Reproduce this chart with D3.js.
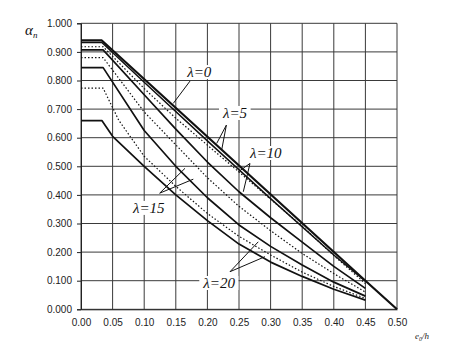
<!DOCTYPE html>
<html>
<head>
<meta charset="utf-8">
<script src="https://cdn.jsdelivr.net/npm/d3@7"></script>
<style>
  html, body { margin: 0; padding: 0; background: #fff; }
  svg { display: block; }
</style>
</head>
<body>
<svg id="chart" width="450" height="344"></svg>
<script>
// Tick values for both axes
const xTicks = [0.00, 0.05, 0.10, 0.15, 0.20, 0.25, 0.30, 0.35, 0.40, 0.45, 0.50];
const yTicks = [0.0, 0.1, 0.2, 0.3, 0.4, 0.5, 0.6, 0.7, 0.8, 0.9, 1.0];

// α_n curves: [e0/h, α_n] points
const lam0  = [[0, 0.940], [0.033, 0.940], [0.45, 0.100], [0.50, 0.000]];
const lam5s = [[0, 0.933], [0.033, 0.933], [0.10, 0.794], [0.20, 0.589], [0.30, 0.387], [0.40, 0.190], [0.45, 0.098]];
const lam10d = [[0, 0.918], [0.035, 0.918], [0.10, 0.772], [0.15, 0.668], [0.20, 0.574], [0.25, 0.480], [0.30, 0.385], [0.35, 0.290], [0.40, 0.188], [0.45, 0.090]];
const lam10s = [[0, 0.907], [0.035, 0.907], [0.10, 0.750], [0.15, 0.630], [0.20, 0.515], [0.25, 0.411], [0.30, 0.320], [0.35, 0.235], [0.40, 0.150], [0.45, 0.073]];
const lam15d = [[0, 0.880], [0.035, 0.880], [0.10, 0.690], [0.15, 0.575], [0.20, 0.460], [0.25, 0.360], [0.30, 0.275], [0.35, 0.195], [0.40, 0.125], [0.45, 0.060]];
const lam15s = [[0, 0.845], [0.035, 0.845], [0.10, 0.625], [0.15, 0.500], [0.20, 0.390], [0.25, 0.295], [0.30, 0.220], [0.35, 0.155], [0.40, 0.095], [0.45, 0.046]];
const lam20d = [[0, 0.773], [0.035, 0.773], [0.06, 0.660], [0.10, 0.535], [0.15, 0.430], [0.20, 0.335], [0.25, 0.255], [0.30, 0.190], [0.35, 0.130], [0.40, 0.080], [0.45, 0.038]];
const lam20s = [[0, 0.660], [0.033, 0.660], [0.05, 0.605], [0.10, 0.500], [0.15, 0.400], [0.20, 0.310], [0.25, 0.228], [0.30, 0.165], [0.35, 0.115], [0.40, 0.070], [0.45, 0.032]];

// Curve labels with leader lines (data coordinates)
const labelNames = ["λ=0", "λ=5", "λ=10", "λ=15", "λ=20"];
const labelAt = [[0.168, 0.812], [0.2247, 0.669], [0.2674, 0.529], [0.0823, 0.337], [0.1935, 0.0745]];
const leaderFrom = [[0.1725, 0.798], [0.230, 0.644], [0.2674, 0.510], [0.1245, 0.406], [0.2358, 0.1315]];
const leaderTo = [
  [[0.146, 0.720]],
  [[0.2147, 0.580], [0.2226, 0.557]],
  [[0.249, 0.481], [0.2568, 0.411]],
  [[0.1646, 0.493], [0.1777, 0.455]],
  [[0.2805, 0.236], [0.2911, 0.184]]
];

const svg = d3.select("#chart");
const x = d3.scaleLinear().domain([0, 0.5]).range([81, 397]);
const y = d3.scaleLinear().domain([0, 1]).range([309.3, 23.3]);

const gridColor = "#3a3a3a";

// grid
svg.append("g").selectAll("line").data(xTicks).join("line")
  .attr("x1", d => x(d)).attr("x2", d => x(d))
  .attr("y1", y(0)).attr("y2", y(1))
  .attr("stroke", gridColor).attr("stroke-width", 1);
svg.append("g").selectAll("line").data(yTicks).join("line")
  .attr("x1", x(0)).attr("x2", x(0.5))
  .attr("y1", d => y(d)).attr("y2", d => y(d))
  .attr("stroke", gridColor).attr("stroke-width", 1);

// axes
const yAxis = d3.axisLeft(y).tickValues(yTicks).tickFormat(d3.format(".3f")).tickSize(4).tickPadding(5);
const gy = svg.append("g").attr("transform", `translate(${x(0)},0)`).call(yAxis);
gy.select(".domain").attr("stroke", "#222");
gy.selectAll("line").attr("stroke", "#222");
gy.selectAll("text").attr("font-family", "Liberation Sans, Arial, sans-serif").attr("font-size", 10).attr("fill", "#222");

const xAxis = d3.axisBottom(x).tickValues(xTicks).tickFormat(d3.format(".2f")).tickSize(0).tickPadding(10);
const gx = svg.append("g").attr("transform", `translate(0,${y(0)})`).call(xAxis);
gx.select(".domain").attr("stroke", "#222");
gx.selectAll("text").attr("font-family", "Liberation Sans, Arial, sans-serif").attr("font-size", 10).attr("fill", "#222");

// curves
const line = d3.line().x(d => x(d[0])).y(d => y(d[1]));
const curves = [
  { data: lam20s, w: 1.7, dash: null },
  { data: lam20d, w: 1.2, dash: "1.5,2" },
  { data: lam15s, w: 1.7, dash: null },
  { data: lam15d, w: 1.2, dash: "1.5,2" },
  { data: lam10s, w: 1.7, dash: null },
  { data: lam10d, w: 1.2, dash: "1.5,2" },
  { data: lam5s,  w: 1.5, dash: null },
  { data: lam0,   w: 2.2, dash: null }
];
svg.append("g").selectAll("path").data(curves).join("path")
  .attr("d", d => line(d.data))
  .attr("fill", "none")
  .attr("stroke", "#111")
  .attr("stroke-width", d => d.w)
  .attr("stroke-dasharray", d => d.dash)
  .attr("stroke-linejoin", "round");

// leader lines
const leaders = svg.append("g");
labelNames.forEach((name, i) => {
  leaderTo[i].forEach(t => {
    leaders.append("line")
      .attr("x1", x(leaderFrom[i][0])).attr("y1", y(leaderFrom[i][1]))
      .attr("x2", x(t[0])).attr("y2", y(t[1]))
      .attr("stroke", "#111").attr("stroke-width", 1);
  });
});

// labels on white patches
const labels = svg.append("g");
labelNames.forEach((name, i) => {
  const t = labels.append("text")
    .attr("x", x(labelAt[i][0])).attr("y", y(labelAt[i][1]))
    .attr("font-family", "Liberation Serif, 'Times New Roman', serif")
    .attr("font-style", "italic").attr("font-size", 15).attr("fill", "#111")
    .text(name);
  const b = t.node().getBBox();
  labels.insert("rect", () => t.node())
    .attr("x", b.x - 3).attr("y", b.y + 1).attr("width", b.width + 6).attr("height", b.height - 2)
    .attr("fill", "#fff");
});

// axis titles
const at = svg.append("text").attr("x", 25).attr("y", 35)
  .attr("font-family", "Liberation Serif, 'Times New Roman', serif")
  .attr("font-style", "italic").attr("fill", "#111");
at.append("tspan").attr("font-size", 15).text("α");
at.append("tspan").attr("font-size", 9).attr("dy", 3).text("n");

const et = svg.append("text").attr("x", 415).attr("y", 339)
  .attr("font-family", "Liberation Serif, 'Times New Roman', serif")
  .attr("font-style", "italic").attr("fill", "#222");
et.append("tspan").attr("font-size", 9).text("e");
et.append("tspan").attr("font-size", 6).attr("dy", 2).text("0");
et.append("tspan").attr("font-size", 9).attr("dy", -2).text("/h");
</script>
</body>
</html>
